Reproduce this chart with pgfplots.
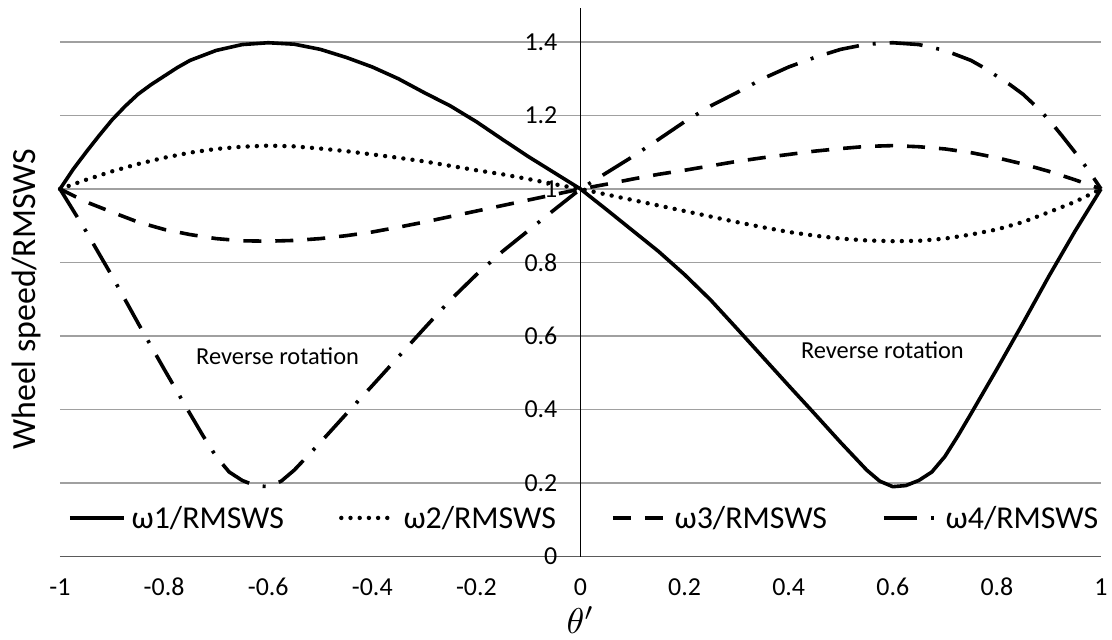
\documentclass[border=0pt]{standalone}
\usepackage{fontspec}
\setmainfont{Carlito}
\usepackage{graphicx}
\usepackage{pgfplots}
\pgfplotsset{compat=1.18}
\definecolor{gridgray}{RGB}{160,160,160}
\definecolor{axgray}{RGB}{90,90,90}

\begin{document}
\begin{tikzpicture}
\begin{axis}[
    name=ax,
    scale only axis,
    width=1041bp, height=548.5bp,
    xmin=-1, xmax=1, ymin=0, ymax=1.4925,
    axis lines=middle,
    x axis line style={-, draw=axgray, line width=1.6bp},
    y axis line style={-, draw=black, line width=1.2bp},
    hide obscured x ticks=false,
    hide obscured y ticks=false,
    major tick length=0pt,
    xtick={-1,-0.8,-0.6,-0.4,-0.2,0,0.2,0.4,0.6,0.8,1},
    xticklabels={{-1},{-0.8},{-0.6},{-0.4},{-0.2},{0},{0.2},{0.4},{0.6},{0.8},{1}},
    ytick={0,0.2,0.4,0.6,0.8,1,1.2,1.4},
    yticklabels={{0},{0.2},{0.4},{0.6},{0.8},{1},{1.2},{1.4}},
    xticklabel style={font=\fontsize{26}{30}\selectfont, anchor=base, inner sep=0pt, yshift=-39bp},
    yticklabel style={font=\fontsize{26}{30}\selectfont, anchor=east, inner sep=0pt, xshift=-23bp},
    ymajorgrids=true,
    grid style={draw=gridgray, line width=1.2bp},
    xlabel={\scalebox{3.6}{$\theta'$}},
    ylabel={Wheel speed/RMSWS},
    xlabel style={at={(rel axis cs:0.5,0)}, anchor=center, yshift=-64bp},
    ylabel style={font=\fontsize{34}{40}\selectfont, at={(rel axis cs:0,0.469)}, xshift=-33.5bp, rotate=90, anchor=center},
    clip=false,
    legend columns=4,
    legend image code/.code={\draw[#1] (0bp,0bp) -- (54bp,0bp);},
    legend style={
        font=\fontsize{32}{36}\selectfont,
        draw=none, fill=none,
        inner sep=0pt, outer sep=0pt,
        at={(axis cs:-1,0.105)}, anchor=west, xshift=8bp,
        nodes={inner sep=0pt},
        column sep=6bp,
        /tikz/every even column/.append style={column sep=55bp}
    },
    legend cell align=left,
]
% omega1 / RMSWS
\addplot[black, line width=3.6bp, line join=round] coordinates {
(-1.00,1.000) (-0.975,1.053) (-0.95,1.100) (-0.925,1.145) (-0.90,1.188)
(-0.875,1.225) (-0.85,1.258) (-0.825,1.284) (-0.80,1.307) (-0.775,1.330)
(-0.75,1.350) (-0.70,1.377) (-0.65,1.393) (-0.60,1.398) (-0.55,1.394)
(-0.50,1.380) (-0.45,1.358) (-0.40,1.332) (-0.35,1.300) (-0.30,1.262)
(-0.25,1.226) (-0.20,1.183) (-0.15,1.135) (-0.10,1.088) (-0.05,1.044)
(0.00,1.000) (0.05,0.944) (0.10,0.887) (0.15,0.830) (0.20,0.767)
(0.25,0.698) (0.30,0.621) (0.35,0.543) (0.40,0.465) (0.45,0.388)
(0.50,0.310) (0.55,0.235) (0.575,0.205) (0.60,0.190) (0.625,0.193)
(0.65,0.207) (0.675,0.230) (0.70,0.272) (0.725,0.328) (0.75,0.388)
(0.80,0.510) (0.85,0.635) (0.90,0.763) (0.95,0.885) (1.00,1.000)
};
% omega2 / RMSWS
\addplot[black, line width=4.4bp, line cap=round, dash pattern=on 0bp off 9.2bp] coordinates {
(-1.00,1.000) (-0.95,1.025) (-0.90,1.048) (-0.85,1.068) (-0.80,1.085)
(-0.75,1.099) (-0.70,1.109) (-0.65,1.115) (-0.60,1.118) (-0.55,1.116)
(-0.50,1.110) (-0.45,1.103) (-0.40,1.094) (-0.35,1.085) (-0.30,1.075)
(-0.25,1.063) (-0.20,1.051) (-0.15,1.040) (-0.10,1.027) (-0.05,1.013)
(0.00,1.000) (0.05,0.985) (0.10,0.970) (0.15,0.955) (0.20,0.940)
(0.25,0.925) (0.30,0.910) (0.35,0.896) (0.40,0.883) (0.45,0.873)
(0.50,0.865) (0.55,0.860) (0.60,0.858) (0.65,0.859) (0.70,0.865)
(0.75,0.876) (0.80,0.890) (0.85,0.910) (0.90,0.937) (0.95,0.965)
(1.00,1.000)
};
% omega3 / RMSWS
\addplot[black, line width=3.6bp, dash pattern=on 18bp off 14bp] coordinates {
(-1.00,1.000) (-0.95,0.965) (-0.90,0.937) (-0.85,0.910) (-0.80,0.890)
(-0.75,0.876) (-0.70,0.865) (-0.65,0.859) (-0.60,0.858) (-0.55,0.860)
(-0.50,0.865) (-0.45,0.873) (-0.40,0.883) (-0.35,0.896) (-0.30,0.910)
(-0.25,0.925) (-0.20,0.940) (-0.15,0.955) (-0.10,0.970) (-0.05,0.985)
(0.00,1.000) (0.05,1.013) (0.10,1.027) (0.15,1.040) (0.20,1.051)
(0.25,1.063) (0.30,1.075) (0.35,1.085) (0.40,1.094) (0.45,1.103)
(0.50,1.110) (0.55,1.116) (0.60,1.118) (0.65,1.115) (0.70,1.109)
(0.75,1.099) (0.80,1.085) (0.85,1.068) (0.90,1.048) (0.95,1.025)
(1.00,1.000)
};
% omega4 / RMSWS
\addplot[black, line width=3.6bp, dash pattern=on 33bp off 14bp on 3bp off 14bp] coordinates {
(-1.00,1.000) (-0.95,0.885) (-0.90,0.763) (-0.85,0.635) (-0.80,0.510)
(-0.75,0.388) (-0.725,0.328) (-0.70,0.272) (-0.675,0.230) (-0.65,0.207)
(-0.625,0.193) (-0.60,0.190) (-0.575,0.205) (-0.55,0.235) (-0.50,0.310)
(-0.45,0.388) (-0.40,0.465) (-0.35,0.543) (-0.30,0.621) (-0.25,0.698)
(-0.20,0.767) (-0.15,0.830) (-0.10,0.887) (-0.05,0.944) (0.00,1.000)
(0.05,1.044) (0.10,1.088) (0.15,1.135) (0.20,1.183) (0.25,1.226)
(0.30,1.262) (0.35,1.300) (0.40,1.332) (0.45,1.358) (0.50,1.380)
(0.55,1.394) (0.60,1.398) (0.65,1.393) (0.70,1.377) (0.75,1.350)
(0.775,1.330) (0.80,1.307) (0.825,1.284) (0.85,1.258) (0.875,1.225)
(0.90,1.188) (0.925,1.145) (0.95,1.100) (0.975,1.053) (1.00,1.000)
};
\legend{ω1/RMSWS, ω2/RMSWS, ω3/RMSWS, ω4/RMSWS}
\node[font=\fontsize{24.5}{28}\selectfont] at (axis cs:-0.582,0.544) {Reverse rotation};
\node[font=\fontsize{24.5}{28}\selectfont] at (axis cs:0.580,0.562) {Reverse rotation};
\end{axis}
\pgfresetboundingbox
\path[use as bounding box] ([shift={(-60bp,-82.5bp)}]ax.south west) rectangle ([shift={(11bp,8bp)}]ax.north east);
\end{tikzpicture}
\end{document}
